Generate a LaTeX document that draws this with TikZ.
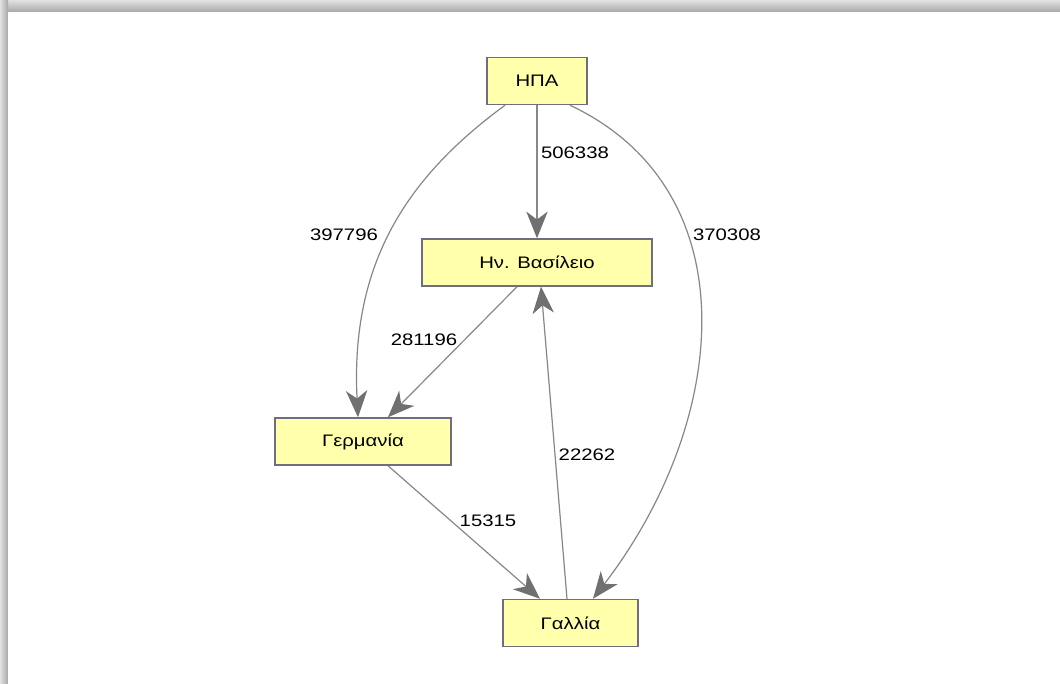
\documentclass[tikz,border=0pt]{standalone}
\usepackage{fontspec}
\setmainfont{Liberation Sans}
\newfontfamily\lblfont[FakeStretch=1.22]{Liberation Sans}
\usetikzlibrary{arrows.meta,calc}

\definecolor{boxfill}{RGB}{255,255,172}
\definecolor{boxline}{RGB}{110,110,128}
\definecolor{edgeline}{RGB}{135,135,135}
\definecolor{tipfill}{RGB}{112,112,112}
\definecolor{shadowlight}{RGB}{226,226,226}
\definecolor{shadowdark}{RGB}{168,168,168}

\tikzset{
  country/.style={draw=boxline, line width=1.1pt, fill=boxfill, inner sep=0pt,
    minimum height=35.25pt, font=\lblfont\fontsize{12.5}{14}\selectfont},
  flow/.style={draw=edgeline, line width=0.9pt,
    -{Stealth[length=20pt, width=16pt, inset=6pt, color=tipfill, fill=tipfill]}},
  amount/.style={inner sep=0pt, font=\lblfont\fontsize{12.5}{14}\selectfont}
}

\begin{document}
\begin{tikzpicture}[x=0.75pt, y=-0.75pt]
  \useasboundingbox (0,0) rectangle (1060,684);
  \fill[white] (0,0) rectangle (1060,684);

  % frame shadow along the top and left edges
  \shade[top color=shadowlight, bottom color=shadowdark] (0,0) rectangle (1060,12);
  \shade[left color=shadowlight, right color=shadowdark] (0,0) rectangle (8,684);
  \fill[white] (8,12) rectangle (1060,684);

  % countries
  \node[country, minimum width=75pt]     (usa) at (537,81)    {ΗΠΑ};
  \node[country, minimum width=172.5pt]  (uk)  at (537,262.5) {Ην. Βασίλειο};
  \node[country, minimum width=132pt]    (de)  at (363,441.5) {Γερμανία};
  \node[country, minimum width=101.25pt] (fr)  at (570.5,623) {Γαλλία};

  % flows
  \draw[flow] (usa.south) -- (uk.north);
  \draw[flow] ($(usa.south)+(-32,0)$) .. controls (410,175) and (350,260) .. ($(de.north)+(-5,0)$);
  \draw[flow] ($(usa.south)+(33,0)$) .. controls (750,190) and (730,420) .. ($(fr.north)+(22.5,0)$);
  \draw[flow] ($(uk.south)+(-20,0)$) -- ($(de.north)+(25,0)$);
  \draw[flow] ($(fr.north)+(-3.5,0)$) -- ($(uk.south)+(4,0)$);
  \draw[flow] ($(de.south)+(25,0)$) -- ($(fr.north)+(-30.5,0)$);

  % flow amounts
  \node[amount] (a1) at (575,153) {506338};
  \node[amount] (a2) at (344,235) {397796};
  \node[amount] (a3) at (727,235) {370308};
  \node[amount] (a4) at (424,340) {281196};
  \node[amount] (a5) at (587,455) {22262};
  \node[amount] (a6) at (488,521) {15315};
\end{tikzpicture}
\end{document}
